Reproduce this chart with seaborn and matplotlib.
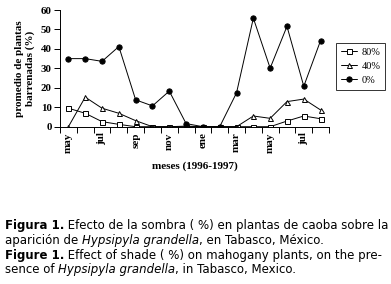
import numpy as np
import pandas as pd
import matplotlib
matplotlib.use('Agg')
import matplotlib.pyplot as plt
import seaborn as sns

# monthly means, may 1996 - aug 1997
months = ['may', 'jun', 'jul', 'ago', 'sep', 'oct', 'nov', 'dic',
          'ene', 'feb', 'mar', 'abr', 'may', 'jun', 'jul', 'ago']
tick_labels = ['may', 'jul', 'sep', 'nov', 'ene', 'mar', 'may', 'jul']
shade_80 = [9.5, 6.9, 2.6, 1.2, 0, 0, 0, 0, 0, 0, 0, 0, 0, 2.9, 5.5, 4.1]
shade_40 = [0, 15.2, 9.5, 6.9, 3.1, 0, 0, 0.3, 0, 0, 0, 5.5, 4.3, 12.9, 14.2, 8.6]
shade_0 = [35, 35, 33.6, 41.2, 13.8, 10.7, 18.3, 1.6, 0, 0, 17.4, 55.8, 30.1, 51.6, 20.8, 44.3]

sns.set_style('ticks')
plt.rcParams['font.family'] = ['Liberation Serif', 'DejaVu Serif']
plt.rcParams.update({'text.color': 'black', 'axes.labelcolor': 'black',
                     'xtick.color': 'black', 'ytick.color': 'black',
                     'axes.edgecolor': 'black'})

fig = plt.figure(figsize=(3.91, 2.84), dpi=100)
ax = fig.add_axes([60 / 391, 157.3 / 284, 269 / 391, 116.7 / 284])

x = np.arange(len(months))
series = [('80%', shade_80, 's', 'white', 3.6),
          ('40%', shade_40, '^', 'white', 3.6),
          ('0%', shade_0, 'o', 'black', 3.8)]
for name, vals, mk, fc, ms in series:
    sns.lineplot(x=x, y=vals, ax=ax, color='black', lw=0.7, marker=mk,
                 markersize=ms, markerfacecolor=fc, markeredgecolor='black',
                 markeredgewidth=0.7, label=name)

ax.set_xlim(-0.5, len(months) - 0.5)
ax.set_ylim(0, 60)
ax.set_yticks(range(0, 61, 10))
ax.set_xticks(x[::2])
ax.set_xticklabels(tick_labels, rotation=90, fontweight='bold', fontsize=8)
ax.set_xticks(np.arange(-0.5, len(months)), minor=True)
ax.tick_params(axis='x', which='major', length=0, pad=4)
ax.tick_params(axis='x', which='minor', length=4, width=0.7, direction='out')
ax.tick_params(axis='y', length=4, width=0.7, labelsize=7.8, pad=2)
for t in ax.get_yticklabels():
    t.set_fontweight('bold')
for s in ['top', 'right']:
    ax.spines[s].set_visible(False)
for s in ['left', 'bottom']:
    ax.spines[s].set_linewidth(0.7)

ax.set_ylabel('promedio de plantas\nbarrenadas (%)', fontsize=8,
              fontweight='bold', labelpad=4, linespacing=1.25)
ax.set_xlabel('meses (1996-1997)', fontsize=8, fontweight='bold', labelpad=6)

leg = ax.legend(loc='upper left', bbox_to_anchor=(336 / 391, 1 - 43 / 284),
                bbox_transform=fig.transFigure, fontsize=7.5, frameon=True,
                fancybox=False, handlelength=1.6, handletextpad=0.4,
                borderpad=0.45, labelspacing=0.45, borderaxespad=0)
leg.get_frame().set_edgecolor('black')
leg.get_frame().set_linewidth(0.7)

# caption, drawn run by run so bold / italic can be mixed
cap_lines = [
    [('Figura 1.', 'bold', 'normal'),
     (' Efecto de la sombra ( %) en plantas de caoba sobre la', 'normal', 'normal')],
    [('aparición de ', 'normal', 'normal'), ('Hypsipyla grandella', 'normal', 'italic'),
     (', en Tabasco, México.', 'normal', 'normal')],
    [('Figure 1.', 'bold', 'normal'),
     (' Effect of shade ( %) on mahogany plants, on the pre-', 'normal', 'normal')],
    [('sence of ', 'normal', 'normal'), ('Hypsipyla grandella', 'normal', 'italic'),
     (', in Tabasco, Mexico.', 'normal', 'normal')],
]
cap_y = [226, 240.5, 255, 269.5]
renderer = fig.canvas.get_renderer()
for runs, yy in zip(cap_lines, cap_y):
    xx = 5 / 391
    for txt, wt, st in runs:
        t = fig.text(xx, 1 - yy / 284, txt, fontsize=8.45, fontweight=wt,
                     fontstyle=st, family=['DejaVu Sans'], color='black',
                     va='center', ha='left')
        bb = t.get_window_extent(renderer=renderer)
        xx += bb.width / fig.bbox.width

fig.savefig('out.png', dpi=100)
